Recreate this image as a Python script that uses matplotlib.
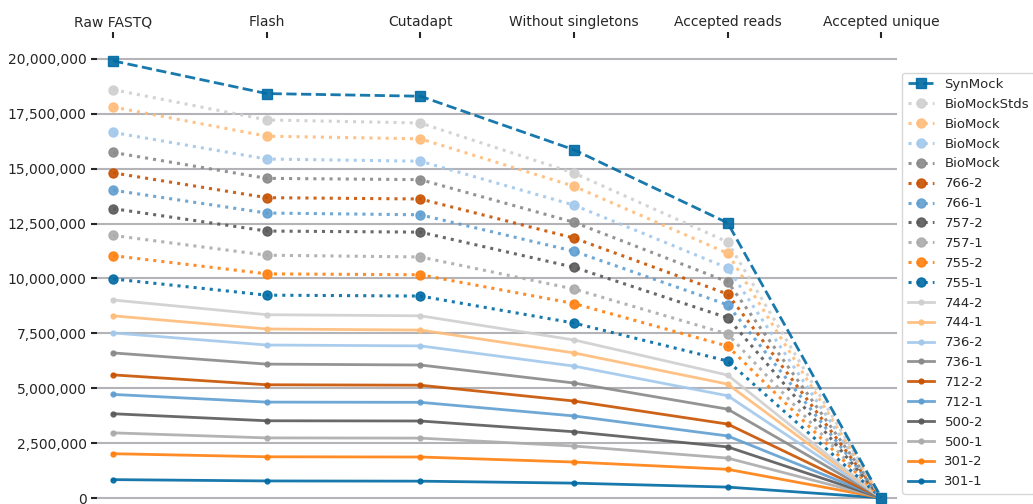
import matplotlib
matplotlib.use('Agg')
import matplotlib.pyplot as plt
from matplotlib.ticker import FuncFormatter

# Processing steps (x axis, shown on top)
steps = ["Raw FASTQ", "Flash", "Cutadapt", "Without singletons",
         "Accepted reads", "Accepted unique"]

# Read counts per sample, in millions
s301_1 = [0.84, 0.78, 0.77, 0.68, 0.50, 0.01]
s301_2 = [2.02, 1.88, 1.87, 1.64, 1.31, 0.01]
s500_1 = [2.97, 2.74, 2.73, 2.37, 1.82, 0.01]
s500_2 = [3.84, 3.52, 3.51, 3.02, 2.33, 0.01]
s712_1 = [4.72, 4.37, 4.36, 3.74, 2.83, 0.01]
s712_2 = [5.61, 5.16, 5.14, 4.42, 3.37, 0.01]
s736_1 = [6.61, 6.10, 6.06, 5.24, 4.05, 0.01]
s736_2 = [7.52, 6.97, 6.93, 6.01, 4.66, 0.01]
s744_1 = [8.30, 7.70, 7.65, 6.61, 5.19, 0.01]
s744_2 = [9.02, 8.35, 8.30, 7.20, 5.60, 0.01]
s755_1 = [9.98, 9.24, 9.20, 7.97, 6.24, 0.02]
s755_2 = [11.04, 10.21, 10.17, 8.86, 6.92, 0.02]
s757_1 = [11.96, 11.06, 10.98, 9.52, 7.47, 0.02]
s757_2 = [13.18, 12.16, 12.11, 10.51, 8.21, 0.02]
s766_1 = [14.02, 12.98, 12.90, 11.24, 8.80, 0.02]
s766_2 = [14.81, 13.68, 13.62, 11.84, 9.29, 0.02]
biomock_a = [15.74, 14.56, 14.50, 12.56, 9.85, 0.02]
biomock_b = [16.65, 15.44, 15.34, 13.34, 10.48, 0.02]
biomock_c = [17.81, 16.48, 16.36, 14.20, 11.15, 0.02]
biomock_stds = [18.60, 17.22, 17.08, 14.80, 11.66, 0.02]
synmock = [19.91, 18.42, 18.30, 15.86, 12.53, 0.02]

solid_labels = ["301-1", "301-2", "500-1", "500-2", "712-1",
                "712-2", "736-1", "736-2", "744-1", "744-2"]
solid_data = [s301_1, s301_2, s500_1, s500_2, s712_1,
              s712_2, s736_1, s736_2, s744_1, s744_2]
dotted_labels = ["755-1", "755-2", "757-1", "757-2", "766-1",
                 "766-2", "BioMock", "BioMock", "BioMock", "BioMockStds"]
dotted_data = [s755_1, s755_2, s757_1, s757_2, s766_1,
               s766_2, biomock_a, biomock_b, biomock_c, biomock_stds]

# tableau colorblind 10
colors = ["#006BA4", "#FF800E", "#ABABAB", "#595959", "#5F9ED1",
          "#C85200", "#898989", "#A2C8EC", "#FFBC79", "#CFCFCF"]

text_color = "#262626"
plt.rcParams['font.family'] = ['DejaVu Sans']
plt.rcParams['text.color'] = text_color
plt.rcParams['xtick.color'] = text_color
plt.rcParams['ytick.color'] = text_color

fig = plt.figure(figsize=(10.33, 5.04), dpi=100)
ax = fig.add_axes([0.094, 0.0, 0.774, 0.925])

x = list(range(len(steps)))
for lab, vals, c in zip(solid_labels, solid_data, colors):
    ax.plot(x, [v * 1e6 for v in vals], '-', marker='.', color=c, alpha=0.9,
            lw=2, ms=7, label=lab, clip_on=False)
for lab, vals, c in zip(dotted_labels, dotted_data, colors):
    ax.plot(x, [v * 1e6 for v in vals], ':', marker='o', color=c, alpha=0.9,
            lw=2.2, ms=6.5, label=lab, clip_on=False)
ax.plot(x, [v * 1e6 for v in synmock], '--', marker='s', color=colors[0],
        alpha=0.9, lw=2, ms=7, label="SynMock", clip_on=False)

ax.set_xlim(-0.104, 5.1)
ax.set_ylim(-0.27e6, 20.96e6)
ax.set_xticks(x)
ax.set_xticklabels(steps, fontsize=10)
ax.xaxis.tick_top()
ax.set_yticks([i * 2.5e6 for i in range(9)])
ax.yaxis.set_major_formatter(FuncFormatter(lambda v, p: f"{int(v):,}"))
ax.tick_params(axis='y', labelsize=10, length=4, width=1.5)
ax.tick_params(axis='x', length=4, width=1.5, pad=2)
ax.grid(axis='y', color='#b4b4b8', lw=1.5)
ax.set_axisbelow(True)
for s in ax.spines.values():
    s.set_visible(False)

handles, labels = ax.get_legend_handles_labels()
ax.legend(handles[::-1], labels[::-1], loc='upper left',
          bbox_to_anchor=(1.007, 0.925), fontsize=9.5, frameon=True,
          borderaxespad=0, labelspacing=0.52)

fig.savefig("out.png", dpi=100)
